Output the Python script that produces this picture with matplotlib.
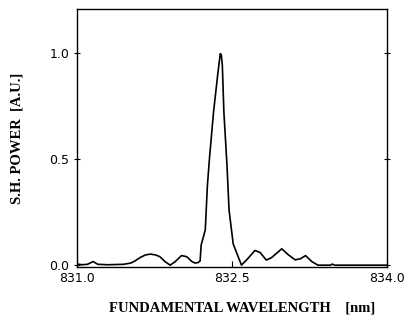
import matplotlib
matplotlib.use("Agg")
import matplotlib.pyplot as plt

# wavelength (nm) and normalised S.H. power
wavelength = [831.00, 831.05, 831.10, 831.155, 831.20, 831.30, 831.45, 831.52,
              831.56, 831.61, 831.66, 831.71, 831.76, 831.80, 831.85, 831.90,
              831.95, 832.01, 832.06, 832.11, 832.14, 832.17, 832.19, 832.20,
              832.22, 832.24, 832.26, 832.28, 832.32, 832.36, 832.385, 832.395,
              832.405, 832.42, 832.45, 832.47, 832.49, 832.51, 832.55, 832.59,
              832.65, 832.72, 832.77, 832.83, 832.88, 832.98, 833.04, 833.11,
              833.16, 833.21, 833.27, 833.33, 833.45, 833.47, 833.49, 834.00]
power = [0.005, 0.002, 0.004, 0.017, 0.004, 0.002, 0.004, 0.010,
         0.020, 0.036, 0.048, 0.052, 0.048, 0.040, 0.017, 0.0,
         0.017, 0.045, 0.040, 0.017, 0.010, 0.012, 0.020, 0.095,
         0.13, 0.166, 0.37, 0.50, 0.72, 0.895, 0.995, 0.99,
         0.94, 0.72, 0.47, 0.26, 0.18, 0.10, 0.05, 0.0,
         0.030, 0.069, 0.060, 0.024, 0.035, 0.077, 0.050, 0.025,
         0.030, 0.045, 0.017, 0.0, 0.0, 0.005, 0.0, 0.0]

xticks = [831.0, 832.5, 834.0]
yticks = [0.0, 0.5, 1.0]

fig = plt.figure(figsize=(4.08, 3.24), dpi=100)
ax = fig.add_axes([0.189, 0.177, 0.760, 0.794])
ax.plot(wavelength, power, color="black", lw=1.2, solid_joinstyle="round")

ax.set_xlim(831.0, 834.0)
ax.set_ylim(-0.007, 1.203)
ax.set_xticks(xticks)
ax.set_xticklabels(["%.1f" % t for t in xticks])
ax.set_yticks(yticks)
ax.set_yticklabels(["%.1f" % t for t in yticks])
ax.tick_params(axis="both", labelsize=9, direction="in", length=4, width=0.8)
ax.tick_params(axis="y", right=True, direction="inout")
for s in ax.spines.values():
    s.set_linewidth(1.0)

serif = {"family": "Liberation Serif", "weight": "bold", "size": 10.5}
ax.set_xlabel("FUNDAMENTAL WAVELENGTH    [nm]", fontdict=serif, labelpad=12)
ax.xaxis.label.set_x(0.532)
ax.set_ylabel("S.H. POWER  [A.U.]", fontdict=serif, labelpad=19)

plt.savefig("out.png", dpi=100)
